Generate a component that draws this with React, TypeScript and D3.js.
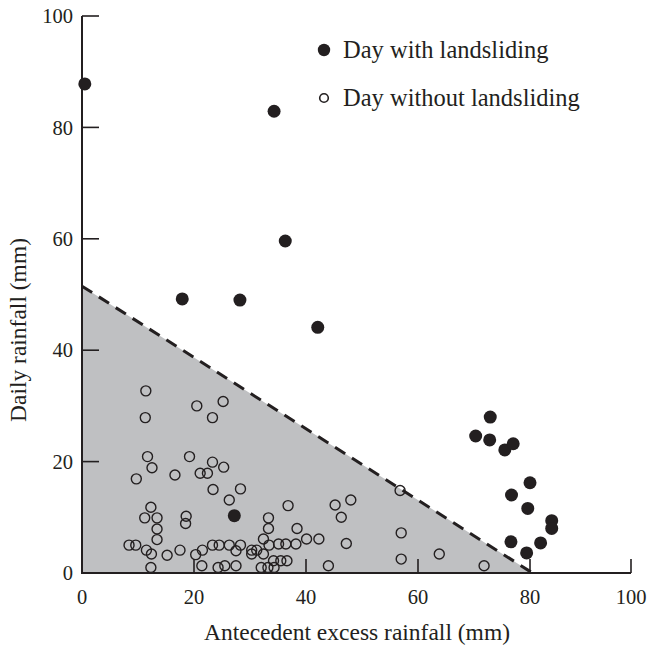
import React from 'react';
import * as d3 from 'd3';

// days with landsliding: [antecedent excess rainfall, daily rainfall]
const slideDays: [number, number][] = [
  [0.5, 87.8], [34.3, 82.9], [36.3, 59.6], [17.9, 49.2], [28.2, 49.0], [42.1, 44.1],
  [27.2, 10.3], [72.9, 28.0], [70.3, 24.6], [72.8, 23.9], [75.5, 22.1], [77.0, 23.2],
  [80.0, 16.2], [76.7, 14.0], [79.6, 11.6], [84.3, 9.4], [84.3, 8.0], [76.6, 5.6],
  [82.1, 5.4], [79.4, 3.6],
];

// days without landsliding
const quietDays: [number, number][] = [
  [11.4, 32.7], [20.5, 30.0], [11.3, 27.9], [25.2, 30.8], [23.3, 27.9],
  [11.7, 20.9], [19.2, 20.9], [12.5, 18.9], [9.7, 16.9], [16.6, 17.6],
  [21.1, 17.9], [22.4, 17.9], [23.3, 19.9], [25.3, 19.0], [23.4, 15.0],
  [28.3, 15.1], [26.3, 13.1], [36.8, 12.1], [12.3, 11.8], [11.2, 9.9],
  [13.4, 9.9], [18.6, 10.2], [18.5, 8.9], [13.4, 7.9], [13.4, 6.0],
  [8.4, 5.0], [9.6, 5.0], [11.5, 4.1], [12.4, 3.4], [15.2, 3.2],
  [17.5, 4.1], [20.3, 3.3], [12.3, 1.0], [21.5, 4.1], [23.3, 5.0],
  [24.5, 5.0], [26.3, 5.0], [28.3, 5.0], [27.5, 4.0], [30.3, 4.1],
  [31.2, 4.1], [30.3, 3.4], [32.4, 3.4], [33.4, 5.0], [35.1, 5.2],
  [36.4, 5.2], [38.2, 5.2], [33.3, 9.9], [33.3, 8.0], [38.4, 8.0],
  [32.4, 6.1], [40.1, 6.1], [42.3, 6.1], [21.4, 1.3], [24.3, 1.0],
  [25.5, 1.3], [27.5, 1.3], [32.0, 1.0], [33.2, 1.0], [34.3, 1.0],
  [34.2, 2.2], [35.5, 2.2], [36.6, 2.2], [44.0, 1.3], [45.2, 12.2],
  [48.0, 13.1], [46.3, 10.0], [47.2, 5.3], [56.8, 14.8], [57.0, 7.2],
  [57.0, 2.5], [63.8, 3.4], [71.8, 1.3],
];

// threshold line: daily rainfall = 51.5 at 0, reaching 0 at 80.5
const threshold: [number, number][] = [[0, 51.5], [80.5, 0]];

const xTicks = [0, 20, 40, 60, 80, 100];
const yTicks = [0, 20, 40, 60, 80, 100];

const ink = '#231f20';
const font = '"Liberation Serif", "Times New Roman", serif';

export default function App() {
  const W = 647;
  const H = 648;
  // the printed axis is not evenly spaced past 80
  const x = d3.scaleLinear().domain([0, 80, 100]).range([82, 530, 631]);
  const y = d3.scaleLinear().domain([0, 100]).range([573, 16]);

  const area = d3.area<[number, number]>()
    .x(d => x(d[0]))
    .y0(y(0))
    .y1(d => y(d[1]));
  const line = d3.line<[number, number]>().x(d => x(d[0])).y(d => y(d[1]));

  return (
    <svg width={W} height={H} style={{ position: 'absolute', left: 0, top: 0, background: '#fff' }}
      fontFamily={font}>
      <path d={area(threshold) || ''} fill="#bfc0c2" />
      <path d={line(threshold) || ''} fill="none" stroke={ink} strokeWidth={3}
        strokeDasharray="12 8" />

      {/* axes */}
      <line x1={x(0)} x2={x(0)} y1={y(0)} y2={y(100)} stroke={ink} strokeWidth={2} />
      <line x1={x(0) - 1} x2={x(100)} y1={y(0)} y2={y(0)} stroke={ink} strokeWidth={2} />
      {yTicks.filter(t => t > 0).map(t => (
        <line key={'yt' + t} x1={x(0)} x2={x(0) + 17} y1={y(t)} y2={y(t)} stroke={ink} strokeWidth={1.6} />
      ))}
      {xTicks.filter(t => t > 0).map(t => (
        <line key={'xt' + t} x1={x(t)} x2={x(t)} y1={y(0)} y2={y(0) - 14} stroke={ink} strokeWidth={1.6} />
      ))}
      {yTicks.map(t => (
        <text key={'yl' + t} x={x(0) - 9} y={y(t)} dy="0.35em" textAnchor="end" fontSize={20.5} fill={ink}>{t}</text>
      ))}
      {xTicks.map(t => (
        <text key={'xl' + t} x={x(t)} y={y(0) + 31} textAnchor="middle" fontSize={20.5} fill={ink}>{t}</text>
      ))}
      <text x={357} y={640} textAnchor="middle" fontSize={23.5} fill={ink}>Antecedent excess rainfall (mm)</text>
      <text transform={`translate(26,330) rotate(-90)`} textAnchor="middle" fontSize={23.5} fill={ink}>Daily rainfall (mm)</text>

      {/* points */}
      {quietDays.map((d, i) => (
        <circle key={'q' + i} cx={x(d[0])} cy={y(d[1])} r={5} fill="none" stroke={ink} strokeWidth={1.4} />
      ))}
      {slideDays.map((d, i) => (
        <circle key={'s' + i} cx={x(d[0])} cy={y(d[1])} r={6.5} fill={ink} />
      ))}

      {/* legend */}
      <circle cx={324} cy={50} r={6.2} fill={ink} />
      <text x={343} y={58} fontSize={24.5} fill={ink}>Day with landsliding</text>
      <circle cx={324} cy={98} r={4.3} fill="none" stroke={ink} strokeWidth={1.6} />
      <text x={343} y={106} fontSize={24.5} fill={ink}>Day without landsliding</text>
    </svg>
  );
}
